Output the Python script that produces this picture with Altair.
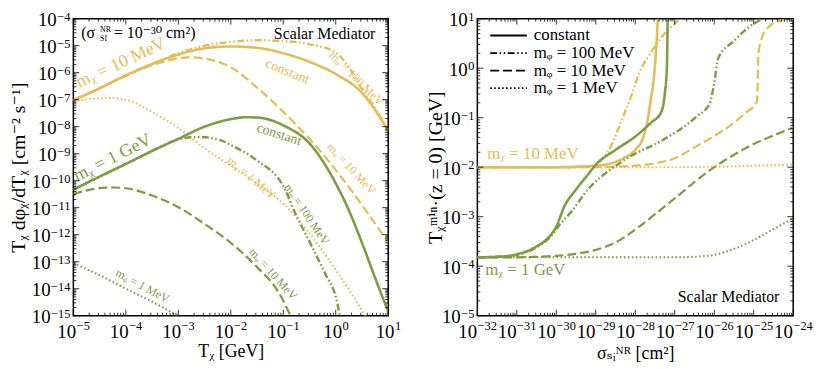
import altair as alt
import pandas as pd

GOLD = "#E3BD57"
GREEN = "#7E9C43"
FONT = "'Liberation Serif', 'DejaVu Serif', serif"

MASSES = ["10 MeV", "1 GeV"]
MEDS = ["constant", "mᵩ = 100 MeV", "mᵩ = 10 MeV", "mᵩ = 1 MeV"]
DASHES = [[1, 0], [7, 2.5, 1.6, 2.5, 1.6, 2.5], [9, 4], [1.6, 2.4]]
WIDTHS = [2.6, 2.1, 2.1, 2.1]

# ---------------- left panel: log10(T_chi / GeV) , log10(T dphi/dT / cm^-2 s^-1)
l_g_const_x = [-5, -4.5, -4, -3.5, -3, -2.5, -2, -1.5, -1, -0.5, 0, 0.5, 1]
l_g_const_y = [-7.02, -6.58, -6.1, -5.68, -5.33, -5.1, -5.03, -5.08, -5.28, -5.6, -6.05, -6.75, -8.15]
l_g_100_x = [-5, -4.5, -4, -3.5, -3, -2.5, -2, -1.5, -1, -0.5, 0, 0.25, 0.5, 0.75, 1]
l_g_100_y = [-7.02, -6.58, -6.1, -5.68, -5.28, -5.0, -4.86, -4.8, -4.83, -4.95, -5.25, -5.8, -6.6, -7.3, -8.15]
l_g_10_x = [-5, -4.5, -4, -3.5, -3, -2.8, -2.5, -2, -1.5, -1, -0.5, 0, 0.5, 1]
l_g_10_y = [-7.02, -6.58, -6.12, -5.72, -5.47, -5.43, -5.48, -5.8, -6.55, -7.45, -8.45, -9.6, -10.9, -12.3]
l_g_1_x = [-5, -4.6, -4.25, -4, -3.5, -3, -2.5, -2, -1.5, -1, -0.5, 0, 0.57]
l_g_1_y = [-7.05, -6.96, -6.94, -7.0, -7.45, -8.05, -8.8, -9.45, -10.1, -10.85, -11.95, -13.3, -15.0]

l_v_const_x = [-5, -4.5, -4, -3.5, -3, -2.5, -2, -1.7, -1.5, -1, -0.5, 0, 0.25, 0.5, 0.75, 1]
l_v_const_y = [-10.33, -9.85, -9.38, -8.9, -8.45, -8.0, -7.72, -7.65, -7.66, -7.95, -8.62, -10.1, -11.1, -12.3, -13.6, -14.85]
l_v_100_x = [-5, -4.5, -4, -3.5, -3, -2.6, -2.2, -2, -1.5, -1, -0.75, -0.45, -0.2, 0, 0.08]
l_v_100_y = [-10.33, -9.85, -9.38, -8.9, -8.47, -8.38, -8.5, -8.68, -9.25, -10.2, -11.3, -12.45, -13.45, -14.3, -15.0]
l_v_10_x = [-5, -4.6, -4.28, -4, -3.5, -3, -2.5, -2, -1.5, -1.1, -0.85]
l_v_10_y = [-10.5, -10.3, -10.25, -10.28, -10.55, -10.98, -11.6, -12.3, -13.2, -14.1, -15.05]
l_v_1_x = [-5, -4.5, -4, -3.5, -3.02]
l_v_1_y = [-13.05, -13.5, -14.0, -14.48, -15.0]

# ---------------- right panel: log10(sigma / cm^2) , log10(T_min / GeV)
r_g_const_x = [-32, -30, -29.5, -29, -28.6, -28.3, -28, -27.8, -27.7, -27.6, -27.53, -27.47, -27.43]
r_g_const_y = [-2, -2, -1.99, -1.97, -1.92, -1.82, -1.65, -1.4, -1.1, -0.6, -0.2, 0.4, 1.0]
r_g_100_x = [-32, -29.5, -29.1, -28.85, -28.6, -28.37, -28.12, -27.9, -27.6, -27.2, -26.85]
r_g_100_y = [-2, -2, -1.97, -1.85, -1.55, -1.1, -0.6, -0.1, 0.32, 0.75, 1.0]
r_g_10_x = [-32, -29, -28.5, -28, -27.5, -27, -26.5, -26, -25.5, -25.2, -24.92, -24.9, -24.88, -24.8, -24.6, -24.3, -24.0]
r_g_10_y = [-2, -2, -1.99, -1.97, -1.92, -1.82, -1.6, -1.37, -1.1, -0.9, -0.68, -0.3, 0.3, 0.6, 0.85, 0.97, 1.0]
r_g_1_x = [-32, -27, -26, -25, -24]
r_g_1_y = [-2, -2, -1.99, -1.97, -1.95]

r_v_const_x = [-32, -31.5, -31, -30.5, -30.2, -30, -29.8, -29.5, -29.2, -29, -28.5, -28, -27.6, -27.35, -27.25, -27.2, -27.18]
r_v_const_y = [-3.82, -3.81, -3.76, -3.6, -3.42, -3.2, -2.8, -2.45, -2.15, -1.95, -1.65, -1.38, -1.1, -0.9, -0.5, 0.0, 1.0]
r_v_100_x = [-32, -31.5, -31, -30.5, -30.2, -29.9, -29.6, -29.2, -28.6, -28.1, -27.3, -26.45, -26.12, -26.0, -25.9, -25.5, -25.0, -24.75]
r_v_100_y = [-3.82, -3.81, -3.77, -3.62, -3.45, -3.15, -2.88, -2.45, -2.03, -1.77, -1.45, -0.98, -0.72, -0.3, 0.2, 0.55, 0.9, 1.0]
r_v_10_x = [-32, -31, -30.5, -30, -29.5, -29, -28.5, -28, -27.5, -27, -26.5, -26, -25.5, -25, -24.5, -24]
r_v_10_y = [-3.82, -3.82, -3.81, -3.79, -3.75, -3.67, -3.52, -3.26, -2.95, -2.63, -2.3, -2.0, -1.75, -1.53, -1.36, -1.2]
r_v_1_x = [-32, -27, -26.5, -26, -25.5, -25, -24.5, -24]
r_v_1_y = [-3.82, -3.82, -3.81, -3.77, -3.65, -3.47, -3.25, -3.03]

LEFT = [
    ("10 MeV", MEDS[0], l_g_const_x, l_g_const_y),
    ("10 MeV", MEDS[1], l_g_100_x, l_g_100_y),
    ("10 MeV", MEDS[2], l_g_10_x, l_g_10_y),
    ("10 MeV", MEDS[3], l_g_1_x, l_g_1_y),
    ("1 GeV", MEDS[1], l_v_100_x, l_v_100_y),
    ("1 GeV", MEDS[2], l_v_10_x, l_v_10_y),
    ("1 GeV", MEDS[3], l_v_1_x, l_v_1_y),
    ("1 GeV", MEDS[0], l_v_const_x, l_v_const_y),
]
RIGHT = [
    ("10 MeV", MEDS[3], r_g_1_x, r_g_1_y),
    ("10 MeV", MEDS[2], r_g_10_x, r_g_10_y),
    ("10 MeV", MEDS[1], r_g_100_x, r_g_100_y),
    ("10 MeV", MEDS[0], r_g_const_x, r_g_const_y),
    ("1 GeV", MEDS[3], r_v_1_x, r_v_1_y),
    ("1 GeV", MEDS[2], r_v_10_x, r_v_10_y),
    ("1 GeV", MEDS[1], r_v_100_x, r_v_100_y),
    ("1 GeV", MEDS[0], r_v_const_x, r_v_const_y),
]

# in-plot labels of the left panel (log10 x, log10 y, text, angle, size)
left_gold_labels = [
    (-4.09, -5.64, "mᵪ = 10 MeV", 335, 18),
    (-0.92, -5.96, "constant", 22, 14),
    (0.40, -6.2, "mᵩ = 100 MeV", 45, 12),
    (0.30, -9.55, "mᵩ = 10 MeV", 47, 12),
    (-1.6, -9.89, "mᵩ = 1 MeV", 40, 12),
]
left_green_labels = [
    (-4.25, -9.16, "mᵪ = 1 GeV", 333, 18),
    (-1.08, -8.29, "constant", 18, 14),
    (-0.55, -11.24, "mᵩ = 100 MeV", 56, 12),
    (-1.19, -13.45, "mᵩ = 10 MeV", 48, 12),
    (-3.68, -13.89, "mᵩ = 1 MeV", 28, 12),
]

BASE = 19
EXP = 12.5


def exp_text(k):
    return str(k).replace("-", "−")


def exp_width(k):
    return sum(0.564 if c == "−" else 0.5 for c in exp_text(k)) * EXP


def groups(lo, hi):
    g = {}
    for k in range(lo, hi + 1):
        g.setdefault(round(exp_width(k), 2), []).append(k)
    return g


def tlayer(df, enc, **mk):
    return alt.Chart(df).mark_text(font=FONT, color="black", **mk).encode(**enc)


def x_labels(lo, hi, xsc, H):
    out = []
    for w, ks in groups(lo, hi).items():
        df = pd.DataFrame({"v": [10.0 ** k for k in ks], "e": [exp_text(k) for k in ks]})
        xe = alt.X("v:Q", scale=xsc, axis=None)
        total = BASE + w
        out.append(tlayer(df, dict(x=xe, y=alt.value(H + 23), text=alt.value("10")),
                          align="left", baseline="alphabetic", dx=-total / 2, fontSize=BASE))
        out.append(tlayer(df, dict(x=xe, y=alt.value(H + 14), text="e:N"),
                          align="left", baseline="alphabetic", dx=-total / 2 + BASE + 0.5, fontSize=EXP))
    return out


def y_labels(lo, hi, ysc):
    # baseline "top" keeps the text bounds close to the glyphs
    out = []
    for w, ks in groups(lo, hi).items():
        df = pd.DataFrame({"v": [10.0 ** k for k in ks], "e": [exp_text(k) for k in ks]})
        ye = alt.Y("v:Q", scale=ysc, axis=None)
        out.append(tlayer(df, dict(y=ye, x=alt.value(-3), text="e:N"),
                          align="right", baseline="top", dy=2.0 - 0.79 * EXP, fontSize=EXP))
        out.append(tlayer(df, dict(y=ye, x=alt.value(-3.5 - w), text=alt.value("10")),
                          align="right", baseline="top", dy=7.5 - 0.79 * BASE, fontSize=BASE))
    return out


def series_df(series):
    rows = []
    for mass, med, xs, ys in series:
        for i, (a, b) in enumerate(zip(xs, ys)):
            rows.append({"x": 10.0 ** a, "y": 10.0 ** b, "mass": mass, "med": med,
                         "key": mass + "|" + med, "i": i})
    return pd.DataFrame(rows)


def title_axis(title, pad, size):
    return alt.Axis(title=title, labels=False, ticks=False, domain=False, grid=False,
                    titleFont=FONT, titleFontSize=size, titleFontWeight="normal",
                    titleColor="black", titlePadding=pad)


def tick_layers(xlo, xhi, ylo, yhi, xsc, ysc, W, H):
    layers = []
    def vals(lo, hi, minor):
        out = []
        for k in range(lo, hi + (0 if minor else 1)):
            if minor:
                out += [m * 10.0 ** k for m in range(2, 10)]
            else:
                out.append(10.0 ** k)
        return out
    for minor, ln in [(False, 6), (True, 3)]:
        dx = pd.DataFrame({"v": vals(xlo, xhi, minor)})
        dy = pd.DataFrame({"v": vals(ylo, yhi, minor)})
        xe = alt.X("v:Q", scale=xsc, axis=None)
        ye = alt.Y("v:Q", scale=ysc, axis=None)
        r = dict(color="black", strokeWidth=0.8)
        layers.append(alt.Chart(dx).mark_rule(**r).encode(x=xe, y=alt.value(H), y2=alt.value(H - ln)))
        layers.append(alt.Chart(dx).mark_rule(**r).encode(x=xe, y=alt.value(0), y2=alt.value(ln)))
        layers.append(alt.Chart(dy).mark_rule(**r).encode(y=ye, x=alt.value(0), x2=alt.value(ln)))
        layers.append(alt.Chart(dy).mark_rule(**r).encode(y=ye, x=alt.value(W), x2=alt.value(W - ln)))
    return layers


def text_at(px, py, text, size, color="black", align="left"):
    return alt.Chart(pd.DataFrame({"a": [0]})).mark_text(
        font=FONT, fontSize=size, color=color, align=align, baseline="alphabetic"
    ).encode(x=alt.value(px), y=alt.value(py), text=alt.value(text))


def line_layer(df, xsc, ysc, xaxis, yaxis):
    return alt.Chart(df).mark_line(clip=True, interpolate="monotone", strokeCap="butt").encode(
        x=alt.X("x:Q", scale=xsc, axis=xaxis),
        y=alt.Y("y:Q", scale=ysc, axis=yaxis),
        color=alt.Color("mass:N", scale=alt.Scale(domain=MASSES, range=[GOLD, GREEN]), legend=None),
        strokeDash=alt.StrokeDash("med:N", scale=alt.Scale(domain=MEDS, range=DASHES), legend=None),
        strokeWidth=alt.StrokeWidth("med:N", scale=alt.Scale(domain=MEDS, range=WIDTHS), legend=None),
        detail="key:N",
        order="i:Q",
    )


def label_layer(items, color, xsc, ysc):
    d = pd.DataFrame([{"x": 10.0 ** a, "y": 10.0 ** b, "t": t, "ang": g, "sz": s} for a, b, t, g, s in items])
    return alt.Chart(d).mark_text(font=FONT, color=color, align="center", baseline="middle").encode(
        x=alt.X("x:Q", scale=xsc, axis=None),
        y=alt.Y("y:Q", scale=ysc, axis=None),
        text="t:N",
        angle=alt.Angle("ang:Q", scale=None),
        size=alt.Size("sz:Q", scale=None),
    )


def legend_layers():
    out = []
    for j, (med, dash) in enumerate(zip(MEDS, DASHES)):
        yy = 17 + 17.7 * j
        out.append(alt.Chart(pd.DataFrame({"a": [0]})).mark_rule(
            color="black", strokeWidth=2.2 if j == 0 else 1.8, strokeDash=dash, strokeCap="butt"
        ).encode(x=alt.value(13), x2=alt.value(50), y=alt.value(yy)))
        out.append(text_at(57, yy + 5, med, 17))
    return out


# ---------------- left chart
W1, H1 = 318, 300
xs1 = alt.Scale(type="log", domain=[1e-5, 10])
ys1 = alt.Scale(type="log", domain=[1e-15, 1e-4])
left = alt.layer(
    line_layer(series_df(LEFT), xs1, ys1,
               title_axis("Tᵪ [GeV]", 27, 18),
               title_axis("Tᵪ dφᵪ/dTᵪ [cm⁻² s⁻¹]", 45, 20)),
    label_layer(left_gold_labels, GOLD, xs1, ys1),
    label_layer(left_green_labels, GREEN, xs1, ys1),
    *tick_layers(-5, 1, -15, -4, xs1, ys1, W1, H1),
    *x_labels(-5, 1, xs1, H1),
    *y_labels(-15, -4, ys1),
    text_at(8, 20, "(σ", 16),
    text_at(27, 13, "NR", 8),
    text_at(27, 23, "SI", 8),
    text_at(41, 20, "= 10⁻³⁰ cm²)", 16),
    text_at(305, 21, "Scalar Mediator", 16, align="right"),
).resolve_axis(x="independent", y="independent").properties(width=W1, height=H1)

# ---------------- right chart
W2, H2 = 319, 300
xs2 = alt.Scale(type="log", domain=[1e-32, 1e-24])
ys2 = alt.Scale(type="log", domain=[1e-5, 10])
right = alt.layer(
    line_layer(series_df(RIGHT), xs2, ys2,
               title_axis("σₛᵢᴺᴿ [cm²]", 29, 18),
               title_axis("Tᵪᵐⁱⁿ·(z = 0) [GeV]", 32, 20)),
    *tick_layers(-32, -24, -5, 1, xs2, ys2, W2, H2),
    *x_labels(-32, -24, xs2, H2),
    *y_labels(-5, 1, ys2),
    *legend_layers(),
    text_at(10, 142, "mᵪ = 10 MeV", 17, GOLD),
    text_at(8, 259, "mᵪ = 1 GeV", 17, GREEN),
    text_at(305, 286, "Scalar Mediator", 16, align="right"),
).resolve_axis(x="independent", y="independent").properties(width=W2, height=H2)

chart = alt.hconcat(left, right, spacing=90, bounds="flush").resolve_scale(
    color="independent", strokeDash="independent", strokeWidth="independent"
).configure(padding=0).configure_view(
    stroke="black", strokeWidth=1.5
)

chart.save("out.html", embed_options={"renderer": "svg", "actions": False})
